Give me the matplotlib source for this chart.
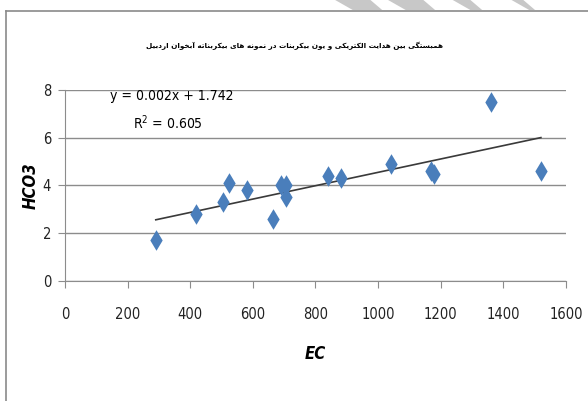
import numpy as np
import matplotlib.pyplot as plt
from matplotlib.lines import Line2D
from matplotlib.patches import Polygon

# EC vs HCO3 samples
ec = [290, 420, 505, 525, 580, 665, 690, 705, 705, 840, 880, 1040, 1170, 1180, 1360, 1520]
hco3 = [1.7, 2.8, 3.3, 4.1, 3.8, 2.6, 4.0, 4.0, 3.5, 4.4, 4.3, 4.9, 4.6, 4.5, 7.5, 4.6]

x_ticks = [0, 200, 400, 600, 800, 1000, 1200, 1400, 1600]
y_ticks = [0, 2, 4, 6, 8]

title_fa = "همبستگی بین هدایت الکتریکی و یون بیکربنات در نمونه های بیکربناته آبخوان اردبیل"
eq_text = "y = 0.002x + 1.742"
r2_text = "R$^2$ = 0.605"

# contextual forms: (isolated, final, initial, medial); None -> right-joining only
FORMS = {
    'ا': ('\uFE8D', '\uFE8E', None, None),
    'آ': ('\uFE81', '\uFE82', None, None),
    'ب': ('\uFE8F', '\uFE90', '\uFE91', '\uFE92'),
    'پ': ('\uFB56', '\uFB57', '\uFB58', '\uFB59'),
    'ت': ('\uFE95', '\uFE96', '\uFE97', '\uFE98'),
    'خ': ('\uFEA5', '\uFEA6', '\uFEA7', '\uFEA8'),
    'د': ('\uFEA9', '\uFEAA', None, None),
    'ر': ('\uFEAD', '\uFEAE', None, None),
    'س': ('\uFEB1', '\uFEB2', '\uFEB3', '\uFEB4'),
    'ک': ('\uFB8E', '\uFB8F', '\uFB90', '\uFB91'),
    'گ': ('\uFB92', '\uFB93', '\uFB94', '\uFB95'),
    'ل': ('\uFEDD', '\uFEDE', '\uFEDF', '\uFEE0'),
    'م': ('\uFEE1', '\uFEE2', '\uFEE3', '\uFEE4'),
    'ن': ('\uFEE5', '\uFEE6', '\uFEE7', '\uFEE8'),
    'و': ('\uFEED', '\uFEEE', None, None),
    'ه': ('\uFEE9', '\uFEEA', '\uFEEB', '\uFEEC'),
    'ی': ('\uFBFC', '\uFBFD', '\uFBFE', '\uFBFF'),
}


def shape_word(word):
    out = []
    for i, ch in enumerate(word):
        f = FORMS.get(ch)
        if f is None:
            out.append(ch)
            continue
        prev = word[i - 1] if i > 0 else None
        nxt = word[i + 1] if i < len(word) - 1 else None
        join_prev = prev in FORMS and FORMS[prev][2] is not None
        join_next = nxt in FORMS and f[2] is not None
        if join_prev and join_next:
            out.append(f[3])
        elif join_prev:
            out.append(f[1])
        elif join_next:
            out.append(f[2])
        else:
            out.append(f[0])
    return ''.join(out)


def rtl(text):
    words = [shape_word(w)[::-1] for w in text.split(' ')]
    return ' '.join(words[::-1])


plt.rcParams['font.family'] = ['DejaVu Sans']
plt.rcParams['font.stretch'] = 'condensed'

fig = plt.figure(figsize=(5.88, 4.01), dpi=100)
ax = fig.add_axes([0.1105, 0.299, 0.852, 0.477])

grid_c = '#8c8c8c'
ax.scatter(ec, hco3, marker='d', s=110, color='#4a7ebb', zorder=3, linewidths=0)

# linear trend over sample range
slope, icept = np.polyfit(ec, hco3, 1)
xs = np.array([min(ec), max(ec)])
ax.plot(xs, slope * xs + icept, color='#3a3a3a', lw=1.2, zorder=2)

ax.set_xlim(0, 1600)
ax.set_ylim(0, 8)
ax.set_xticks(x_ticks)
ax.set_yticks(y_ticks)
ax.tick_params(axis='both', labelsize=10.5, color=grid_c, length=5, labelcolor='#222222')
ax.tick_params(axis='x', pad=14)
ax.tick_params(axis='y', pad=5)
ax.yaxis.grid(True, color=grid_c, lw=1)
ax.set_axisbelow(True)
for s in ['top', 'right']:
    ax.spines[s].set_visible(False)
for s in ['left', 'bottom']:
    ax.spines[s].set_color(grid_c)

ax.set_xlabel('EC', fontsize=12, fontstyle='italic', fontweight='bold', labelpad=16)
ax.set_ylabel('HCO3', fontsize=12, fontstyle='italic', fontweight='bold', labelpad=2)

ax.text(0.09, 0.97, eq_text, transform=ax.transAxes, fontsize=10, va='center')
ax.text(0.136, 0.83, r2_text, transform=ax.transAxes, fontsize=10, va='center')

fig.text(0.5, 0.885, rtl(title_fa), ha='center', va='center', fontsize=5.2,
         fontweight='bold', fontstretch='normal')

# chart frame
fig.add_artist(Line2D([0.011, 1.0], [0.973, 0.973], color='#8a8a8a', lw=1.2))
fig.add_artist(Line2D([0.011, 0.011], [0.0, 0.973], color='#8a8a8a', lw=1.2))

# faint logo strokes along the top edge
for px in [(0.57, 0.63), (0.66, 0.72), (0.77, 0.80), (0.87, 0.89)]:
    fig.add_artist(Polygon([[px[0], 1.0], [px[1], 1.0], [px[1] + 0.02, 0.975], [px[0] + 0.03, 0.975]],
                           closed=True, color='#c8c8c8', transform=fig.transFigure, lw=0))

fig.savefig('out.png', dpi=100)
